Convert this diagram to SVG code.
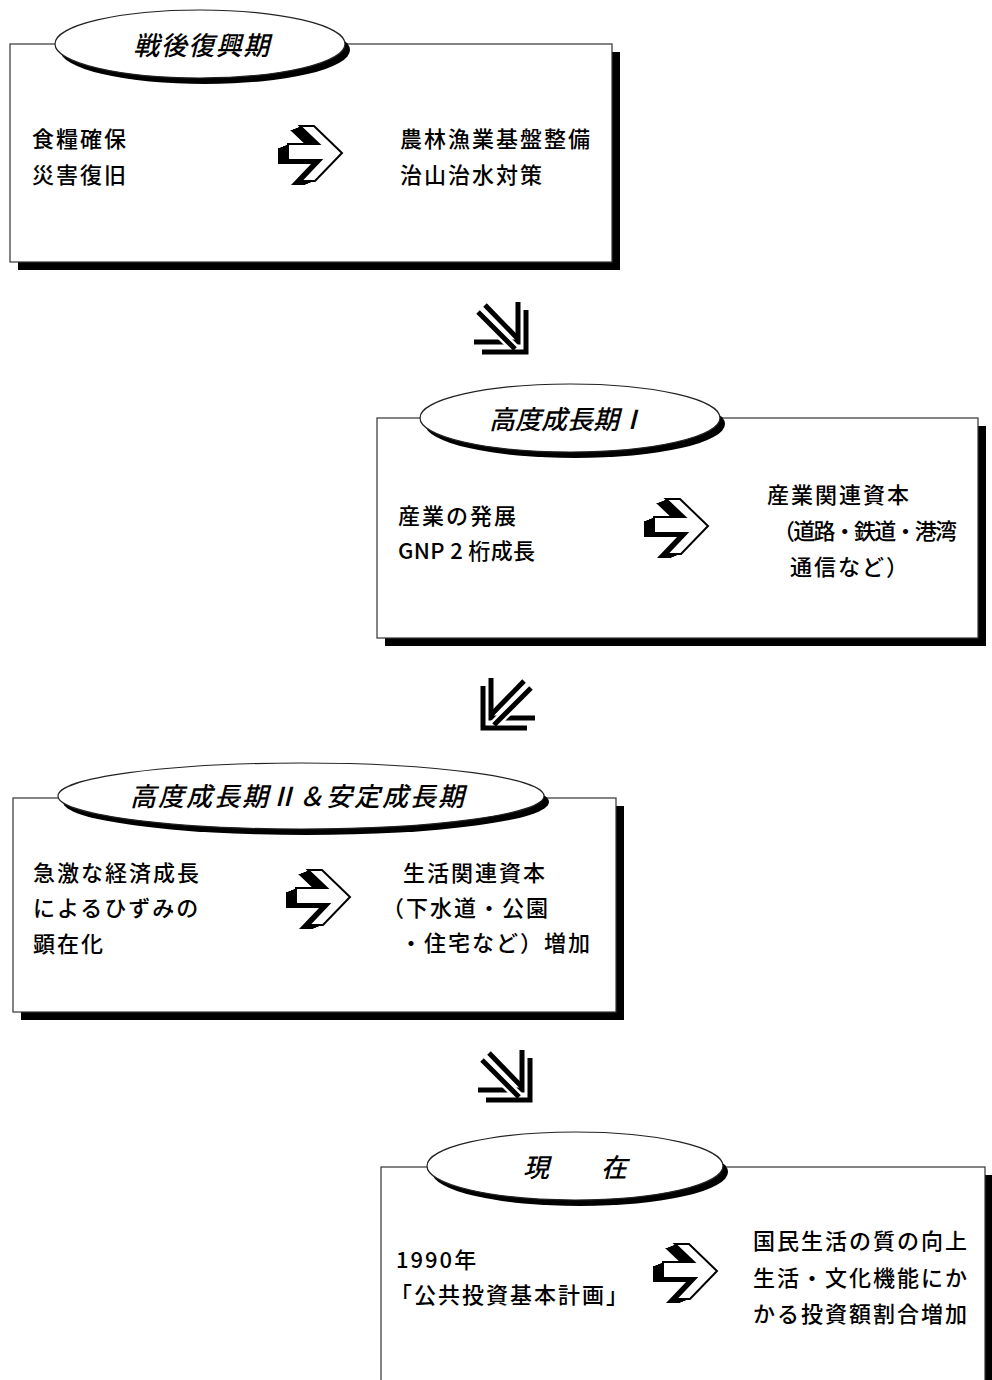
<svg xmlns="http://www.w3.org/2000/svg" xmlns:xlink="http://www.w3.org/1999/xlink" width="992" height="1380" viewBox="0 0 992 1380">
<style>
.box{fill:#fff;stroke:#333;stroke-width:1.2}
.shadow{fill:#000}
.ell{fill:#fff;stroke:#222;stroke-width:1.2}
.title{font-family:"Noto Sans CJK JP","Noto Sans CJK SC",sans-serif;font-size:26px;font-weight:500;font-style:italic;fill:#000;text-anchor:middle}
.t{font-family:"Noto Sans CJK JP","Noto Sans CJK SC",sans-serif;font-size:22px;font-weight:500;fill:#000;letter-spacing:2px}
.dl{fill:none;stroke:#000;stroke-width:5}
</style>
<defs>
<polygon id="arrShape" points="10,21 41,21 22,3 36,3 64,30 37,58 23,58 43,37 10,37"/>
<g id="bigArrow">
<use xlink:href="#arrShape" transform="translate(-2.5,1)" fill="#000"/>
<use xlink:href="#arrShape" transform="translate(-5,2)" fill="#000"/>
<use xlink:href="#arrShape" transform="translate(-7.5,3)" fill="#000"/>
<use xlink:href="#arrShape" transform="translate(-10,4)" fill="#000"/>
<use xlink:href="#arrShape" fill="#fff" stroke="#000" stroke-width="2" stroke-linejoin="miter"/>
</g>
<g id="dblArrow">
<path class="dl" d="M11,3 L44,37"/>
<path class="dl" d="M44,0 V40 H0"/>
<path d="M4,10 L41,47" fill="none" stroke="#fff" stroke-width="10"/>
<path class="dl" d="M4,10 L41,47"/>
<path class="dl" d="M52,8 V50 H8"/>
</g>
</defs>

<g id="connectors">
<use xlink:href="#dblArrow" transform="translate(474,302)"/>
<use xlink:href="#dblArrow" transform="translate(535,678) scale(-1,1)"/>
<use xlink:href="#dblArrow" transform="translate(478,1050)"/>
</g>

<g id="node-postwar">
<rect class="shadow" x="18" y="52" width="602" height="218"/>
<rect class="box" x="10" y="44" width="602" height="218"/>
<ellipse class="shadow" cx="205" cy="50" rx="145" ry="34"/>
<ellipse class="ell" cx="200" cy="44" rx="145" ry="34"/>
<text class="title" x="202" y="55" letter-spacing="1.5">戦後復興期</text>
<text class="t" x="32" y="147">食糧確保</text>
<text class="t" x="32" y="183">災害復旧</text>
<use xlink:href="#bigArrow" transform="translate(278,123)"/>
<text class="t" x="400" y="147">農林漁業基盤整備</text>
<text class="t" x="400" y="183">治山治水対策</text>
</g>

<g id="node-growth1">
<rect class="shadow" x="385" y="426" width="601" height="220"/>
<rect class="box" x="377" y="418" width="601" height="220"/>
<ellipse class="shadow" cx="575" cy="424" rx="150" ry="34"/>
<ellipse class="ell" cx="570" cy="418" rx="150" ry="34"/>
<text class="title" x="567" y="429">高度成長期Ⅰ</text>
<text class="t" x="398" y="524">産業の発展</text>
<text class="t" x="398" y="559" letter-spacing="0" textLength="139" lengthAdjust="spacing">GNP 2 桁成長</text>
<use xlink:href="#bigArrow" transform="translate(644,496)"/>
<text class="t" x="767" y="503">産業関連資本</text>
<text class="t" x="773" y="539" letter-spacing="0" textLength="186" lengthAdjust="spacing">（道路・鉄道・港湾</text>
<text class="t" x="790" y="575" letter-spacing="0">通信など）</text>
</g>

<g id="node-growth2">
<rect class="shadow" x="21" y="806" width="603" height="214"/>
<rect class="box" x="13" y="798" width="603" height="214"/>
<ellipse class="shadow" cx="306" cy="802" rx="243" ry="33"/>
<ellipse class="ell" cx="301" cy="796" rx="243" ry="33"/>
<text class="title" x="298" y="806" letter-spacing="2">高度成長期Ⅱ＆安定成長期</text>
<text class="t" x="33" y="881">急激な経済成長</text>
<text class="t" x="33" y="916">によるひずみの</text>
<text class="t" x="33" y="952">顕在化</text>
<use xlink:href="#bigArrow" transform="translate(286,867)"/>
<text class="t" x="403" y="881">生活関連資本</text>
<text class="t" x="382" y="916" letter-spacing="3">（下水道・公園</text>
<text class="t" x="400" y="951">・住宅など）増加</text>
</g>

<g id="node-present">
<rect class="shadow" x="389" y="1175" width="604" height="260"/>
<rect class="box" x="381" y="1167" width="604" height="260"/>
<ellipse class="shadow" cx="580" cy="1172" rx="148" ry="34"/>
<ellipse class="ell" cx="575" cy="1166" rx="148" ry="34"/>
<text class="title" x="575" y="1177" xml:space="preserve">現　　在</text>
<text class="t" x="396" y="1268" letter-spacing="0">1990年</text>
<text class="t" x="390" y="1303" letter-spacing="0">「公共投資基本計画」</text>
<use xlink:href="#bigArrow" transform="translate(653,1241)"/>
<text class="t" x="753" y="1249">国民生活の質の向上</text>
<text class="t" x="753" y="1286">生活・文化機能にか</text>
<text class="t" x="753" y="1322">かる投資額割合増加</text>
</g>
</svg>
